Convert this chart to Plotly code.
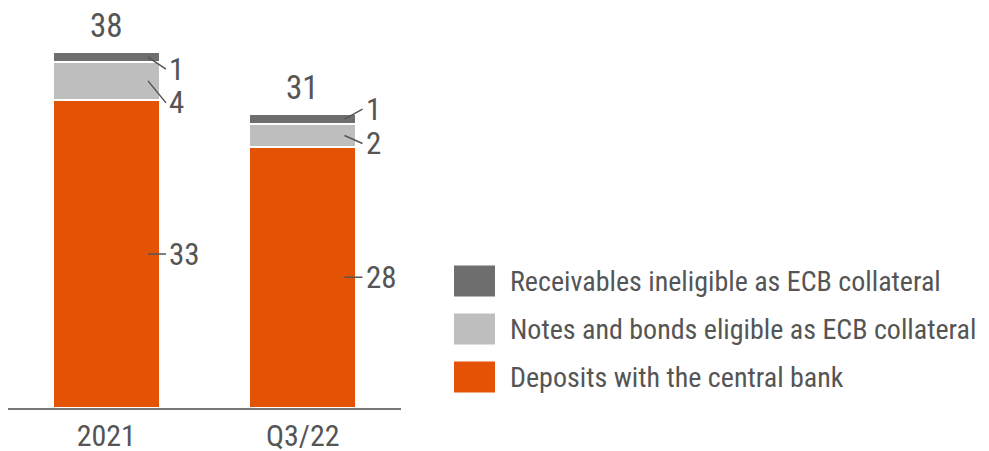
import plotly.graph_objects as go

categories = ["2021", "Q3/22"]
series_names = ["Deposits with the central bank",
                "Notes and bonds eligible as ECB collateral",
                "Receivables ineligible as ECB collateral"]
deposits = [33.0, 28.0]
notes = [4.1, 2.4]
receivables = [1.0, 1.1]
deposit_labels = ["33", "28"]
notes_labels = ["4", "2"]
receivables_labels = ["1", "1"]
total_labels = ["38", "31"]

colors = ["#E35205", "#BEBEBE", "#6E6E6E"]
text_color = "#555555"
FONT = "Roboto Condensed, DejaVu Sans Condensed, sans-serif"

x = list(range(len(categories)))
bar_w = 0.545
fig = go.Figure()
series = [deposits, notes, receivables]
for name, vals, col in zip(series_names, series, colors):
    fig.add_trace(go.Bar(x=x, y=vals, name=name, width=bar_w,
                         marker=dict(color=col, line=dict(color="white", width=2)),
                         showlegend=False))

annotations = []
label_sets = [deposit_labels, notes_labels, receivables_labels]
# leader-line offsets (pixels) per series and bar
leader_offsets = {
    0: [(18, 0), (18, 0)],
    1: [(18, 22), (18, 8)],
    2: [(18, 12), (18, -10)],
}
for i in x:
    base = 0.0
    for s_idx, vals in enumerate(series):
        mid = base + vals[i] / 2
        base += vals[i]
        ax_off, ay_off = leader_offsets[s_idx][i]
        annotations.append(dict(
            x=i + bar_w / 2 - 0.06, y=mid, xref="x", yref="y",
            text=label_sets[s_idx][i], showarrow=True, arrowhead=0,
            arrowwidth=1.5, arrowcolor=text_color, ax=ax_off, ay=ay_off,
            standoff=0, startstandoff=0, xanchor="left",
            font=dict(family=FONT, size=31, color=text_color), borderpad=2))
    annotations.append(dict(
        x=i, y=base, xref="x", yref="y", text=total_labels[i], showarrow=False,
        yanchor="bottom", yshift=5,
        font=dict(family=FONT, size=33, color=text_color)))

# custom legend (top to bottom: receivables, notes, deposits)
shapes = []
legend_rows = list(zip(series_names, colors))[::-1]
for k, (name, col) in enumerate(legend_rows):
    yc = 451 - (281 + 48 * k)
    shapes.append(dict(type="rect", xref="paper", yref="paper",
                       x0=(454 - 8) / 393, x1=(495 - 8) / 393,
                       y0=(yc - 15.5 - 43) / 392, y1=(yc + 15.5 - 43) / 392,
                       fillcolor=col, line=dict(width=0)))
    annotations.append(dict(x=(508 - 8) / 393, y=(yc - 43) / 392, xref="paper", yref="paper",
                            text=name, showarrow=False, xanchor="left", yanchor="middle",
                            font=dict(family=FONT, size=28, color=text_color)))

fig.update_layout(
    barmode="stack", bargap=0,
    width=981, height=443,
    margin=dict(l=0, r=588, t=8, b=43, autoexpand=False),
    plot_bgcolor="white", paper_bgcolor="white",
    xaxis=dict(range=[-0.5, 1.5], tickvals=x, ticktext=categories,
               showline=True, linecolor="#777777", linewidth=1.5,
               showgrid=False, zeroline=False, ticks="", automargin=False,
               tickfont=dict(family=FONT, size=30, color=text_color)),
    yaxis=dict(range=[0, 42], visible=False, showgrid=False, zeroline=False,
               automargin=False),
    annotations=annotations, shapes=shapes,
)

fig.write_html("out.html")
